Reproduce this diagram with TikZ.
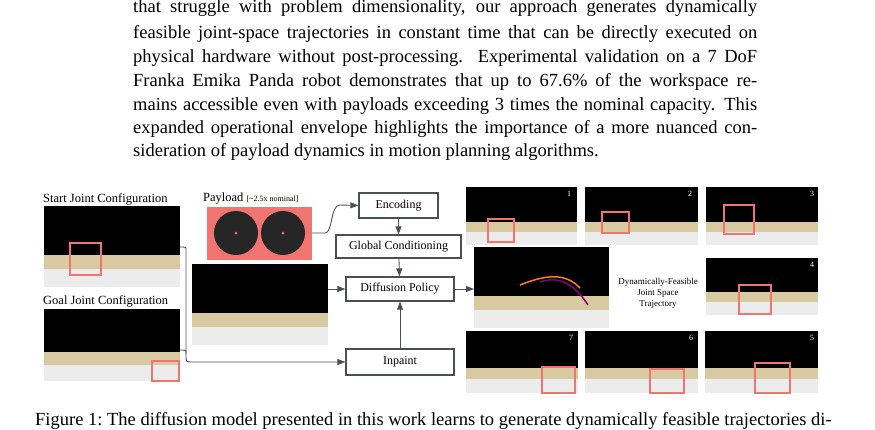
\documentclass[tikz,border=0pt]{standalone}
\usepackage{fontspec}
\setmainfont{Liberation Serif}
\usetikzlibrary{arrows.meta}
\definecolor{pk}{HTML}{F07470}
\definecolor{ln}{HTML}{4A4F55}
\definecolor{tb}{HTML}{D9C9A0}
\begin{document}
\begin{tikzpicture}[x=1pt,y=-1pt,
  box/.style={draw=ln,line width=1.3pt,fill=white,inner sep=0,font=\fontsize{12}{14}\selectfont},
  arr/.style={draw=ln,line width=0.9pt,-{Triangle[length=8pt,width=6pt]}},
  lbl/.style={font=\fontsize{12.5}{14}\selectfont,inner sep=0},
  num/.style={font=\fontsize{8}{9}\selectfont,text=white,inner sep=0},
  body/.style={font=\fontsize{18.5}{24}\selectfont,inner sep=0,anchor=west}]
\useasboundingbox (0,0) rectangle (875,429);
\newcommand\jline[1]{\makebox[624pt][s]{#1}}
% body text
\node[body] (t1) at (133,8) {\jline{that struggle with problem dimensionality, our approach generates dynamically}};
\node[body] (t2) at (133,34) {\jline{feasible joint-space trajectories in constant time that can be directly executed on}};
\node[body] (t3) at (133,58) {\jline{physical hardware without post-processing.\ \ Experimental validation on a 7 DoF}};
\node[body] (t4) at (133,82) {\jline{Franka Emika Panda robot demonstrates that up to 67.6\% of the workspace re-}};
\node[body] (t5) at (133,106) {\jline{mains accessible even with payloads exceeding 3 times the nominal capacity. This}};
\node[body] (t6) at (133,129) {\jline{expanded operational envelope highlights the importance of a more nuanced con-}};
\node[body] (t7) at (133,152) {sideration of payload dynamics in motion planning algorithms.};
\node[body] (cap) at (35,421) {Figure 1:\ The diffusion model presented in this work learns to generate dynamically feasible trajectories di-};
% photo macro
\newcommand\photo[5]{% name, x1,y1,x2,y2
  \fill[black] (#2,#3) rectangle (#4,#5);
  \fill[tb] (#2,{#3+0.6*(#5-#3)}) rectangle (#4,{#3+0.78*(#5-#3)});
  \fill[gray!15] (#2,{#3+0.78*(#5-#3)}) rectangle (#4,#5);
  \coordinate (#1) at ({(#2+#4)/2},{(#3+#5)/2});}
\photo{ps}{44}{206}{180}{287}
\draw[pk,line width=1.5pt] (70,243) rectangle (101,275);
\photo{pg}{44}{309}{180}{381}
\draw[pk,line width=1.5pt] (152,361) rectangle (179,381);
\photo{pm}{192}{264}{328}{345}
\fill[pk] (207,207) rectangle (312,260);
\fill[black!85] (236,233) circle (22); \fill[black!85] (283,233) circle (22);
\fill[pk] (236,233) circle (1.5); \fill[pk] (283,233) circle (1.5);
\coordinate (pay) at (312,233);
\node[lbl,anchor=west] (sl) at (43,199) {Start Joint Configuration};
\node[lbl,anchor=west] (gl) at (43,301) {Goal Joint Configuration};
\node[lbl,anchor=west] (pl) at (203,199) {Payload {\fontsize{8}{9}\selectfont[\textasciitilde2.5x nominal]}};
% boxes
\node[box,minimum width=79,minimum height=25] (enc) at (398.5,205.5) {Encoding};
\node[box,minimum width=125,minimum height=23] (glob) at (398.5,246.5) {Global Conditioning};
\node[box,minimum width=108,minimum height=24] (dif) at (400,289) {Diffusion Policy};
\node[box,minimum width=108,minimum height=26] (inp) at (400,362) {Inpaint};
% right photos
\photo{r1}{466}{187}{577}{245}\draw[pk,line width=1.5pt] (488,219) rectangle (514,242);\node[num] at (569,194) {1};
\photo{r2}{585}{187}{698}{245}\draw[pk,line width=1.5pt] (602,212) rectangle (629,233);\node[num] at (690,194) {2};
\photo{r3}{706}{187}{818}{245}\draw[pk,line width=1.5pt] (724,205) rectangle (754,234);\node[num] at (812,194) {3};
\photo{rb}{474}{247}{609}{328}
\draw[orange,line width=1.5pt] (520,285) .. controls (545,275) and (565,272) .. (580,288);
\draw[violet,line width=1.5pt] (540,282) .. controls (560,275) and (575,285) .. (588,305);
\photo{r4}{706}{258}{818}{315}\draw[pk,line width=1.5pt] (739,285) rectangle (771,314);\node[num] at (812,265) {4};
\photo{r7}{466}{331}{578}{393}\draw[pk,line width=1.5pt] (542,367) rectangle (575,393);\node[num] at (571,338) {7};
\photo{r6}{585}{331}{698}{393}\draw[pk,line width=1.5pt] (650,369) rectangle (684,393);\node[num] at (691,338) {6};
\photo{r5}{705}{331}{818}{393}\draw[pk,line width=1.5pt] (755,363) rectangle (790,393);\node[num] at (812,338) {5};
\node[align=center,font=\fontsize{9}{11}\selectfont,inner sep=0] (dyn) at (658,293) {Dynamically-Feasible\\Joint Space\\Trajectory};
% arrows
\draw[arr] (pay) -- (325,233) .. controls (333,233) and (330,205) .. (340,205) -- (enc.west);
\draw[arr] (enc) -- (glob);
\draw[arr] (glob) -- (dif);
\draw[arr] (328,289) -- (dif.west);
\draw[arr] (dif.east) -- (474,289);
\draw[arr] (inp) -- (dif);
\draw[draw=ln,line width=0.9pt] (180,247) -- (183,247) .. controls (186,247) .. (186,251) -- (186,356);
\draw[draw=ln,line width=0.9pt] (180,350) -- (183,350) .. controls (186,350) .. (186,354);
\draw[arr] (186,356) .. controls (186,362) .. (192,362) -- (inp.west);
\end{tikzpicture}
\end{document}
